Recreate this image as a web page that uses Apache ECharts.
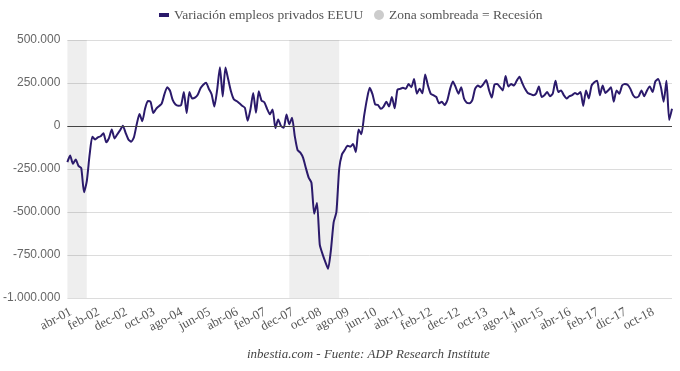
<!DOCTYPE html>
<html>
<head>
<meta charset="utf-8">
<script src="https://cdn.jsdelivr.net/npm/echarts@6/dist/echarts.min.js"></script>
<style>
html,body{margin:0;padding:0;background:#fff;}
#chart{width:680px;height:371px;}
</style>
</head>
<body>
<div id="chart"></div>
<script>
// Month names (Spanish abbreviations as used in the source)
const monthNames = ['ene','feb','mar','abr','may','jun','jul','ago','sep','oct','nov','dec'];
// Categories: abr-01 .. jun-19 (monthly)
const categories = [];
for (let y = 2001; y <= 2019; y++) {
  for (let m = 0; m < 12; m++) {
    if (y === 2001 && m < 3) continue;
    if (y === 2019 && m > 5) continue;
    let name = monthNames[m];
    if (m === 11 && y >= 2017) name = 'dic';
    categories.push(name + '-' + String(y).slice(2));
  }
}

// Monthly change in US private employment (ADP)
const empleos = [
  -210000,-172000,-220000,-195000,-232000,-245000,-385000,-320000,-170000,-62000,
  -78000,-66000,-60000,-42000,-95000,-70000,-20000,-72000,-48000,-25000,
  2000,-40000,-78000,-92000,-65000,10000,70000,28000,100000,145000,
  140000,75000,100000,115000,130000,185000,226000,205000,150000,125000,118000,
  122000,197000,75000,197000,160000,165000,182000,220000,240000,252000,
  216000,185000,113000,210000,342000,172000,340000,270000,200000,155000,
  145000,132000,118000,106000,30000,96000,192000,77000,202000,148000,
  138000,100000,68000,96000,-12000,38000,0,-10000,67000,10000,
  48000,-60000,-140000,-155000,-185000,-245000,-300000,-330000,-510000,-447000,
  -690000,-745000,-790000,-830000,-725000,-560000,-500000,-250000,-165000,-140000,-115000,
  -120000,-105000,-152000,-20000,-48000,60000,155000,222000,185000,125000,
  122000,100000,113000,141000,113000,169000,103000,211000,216000,222000,
  216000,244000,226000,273000,188000,216000,190000,300000,235000,188000,
  179000,169000,132000,141000,122000,150000,216000,259000,226000,188000,
  226000,160000,135000,132000,150000,216000,235000,226000,244000,267000,
  210000,165000,240000,244000,226000,207000,291000,230000,244000,235000,
  263000,286000,250000,216000,192000,185000,179000,188000,229000,169000,179000,
  197000,173000,188000,263000,197000,207000,179000,160000,173000,179000,
  192000,184000,197000,117000,207000,160000,235000,254000,263000,179000,
  235000,192000,207000,226000,141000,207000,188000,235000,244000,240000,
  216000,179000,165000,173000,207000,173000,207000,229000,197000,259000,
  273000,226000,141000,263000,35000,100000
];

// Recession periods (shaded)
const recessionStart = ['abr-01', 'dec-07'];
const recessionEnd   = ['nov-01', 'jun-09'];

// Y axis ticks
const yMin = -1000000, yMax = 500000, yStep = 250000;

const seriesName = 'Variación empleos privados EEUU';
const recessionName = 'Zona sombreada = Recesión';

function fmt(v) {
  const neg = v < 0;
  const s = String(Math.abs(v)).replace(/\B(?=(\d{3})+(?!\d))/g, '.');
  return (neg ? '-' : '') + s;
}

const chart = echarts.init(document.getElementById('chart'), null, {renderer: 'canvas'});
chart.setOption({
  animation: false,
  backgroundColor: '#ffffff',
  grid: {left: 64, right: 8, top: 40, bottom: 73, containLabel: false},
  legend: [{
    data: [{name: seriesName, icon: 'rect'}],
    left: 154, top: 3,
    itemWidth: 10, itemHeight: 4, itemGap: 10,
    textStyle: {fontFamily: 'Liberation Serif', fontSize: 13.5, color: '#555'},
    selectedMode: false
  }, {
    data: [{name: recessionName, icon: 'circle'}],
    left: 369, top: 3,
    itemWidth: 10, itemHeight: 10,
    textStyle: {fontFamily: 'Liberation Serif', fontSize: 13.5, color: '#555'},
    selectedMode: false
  }],
  title: {
    text: 'inbestia.com - Fuente: ADP Research Institute',
    left: 242, top: 343,
    textStyle: {fontFamily: 'Liberation Serif', fontStyle: 'italic', fontWeight: 'normal', fontSize: 13, color: '#444'}
  },
  xAxis: {
    type: 'category',
    data: categories,
    boundaryGap: false,
    axisLine: {show: false},
    axisTick: {show: false},
    splitLine: {show: false},
    axisLabel: {
      interval: 9,
      rotate: 28,
      margin: 15,
      padding: [0, -4, 0, 0],
      fontFamily: 'Liberation Serif',
      fontSize: 13,
      color: '#555'
    }
  },
  yAxis: {
    type: 'value',
    min: yMin, max: yMax, interval: yStep,
    axisLine: {show: false},
    axisTick: {show: false},
    splitLine: {lineStyle: {color: '#dcdcdc', width: 1}},
    axisLabel: {
      formatter: fmt,
      fontFamily: 'Liberation Sans',
      fontSize: 12,
      color: '#666',
      margin: 7
    }
  },
  series: [{
    name: seriesName,
    type: 'line',
    data: empleos,
    symbol: 'none',
    smooth: 0.2,
    color: '#2b1a6b',
    lineStyle: {color: '#2b1a6b', width: 2},
    z: 3,
    markLine: {
      silent: true,
      symbol: 'none',
      label: {show: false},
      lineStyle: {color: '#444', width: 1, type: 'solid'},
      data: [{yAxis: 0}]
    },
    markArea: {
      silent: true,
      itemStyle: {color: 'rgba(0,0,0,0.065)'},
      data: recessionStart.map((s, k) => [{xAxis: s}, {xAxis: recessionEnd[k]}])
    }
  }, {
    name: recessionName,
    type: 'line',
    data: [],
    color: '#cccccc',
    itemStyle: {color: '#cccccc'}
  }]
});
</script>
</body>
</html>
